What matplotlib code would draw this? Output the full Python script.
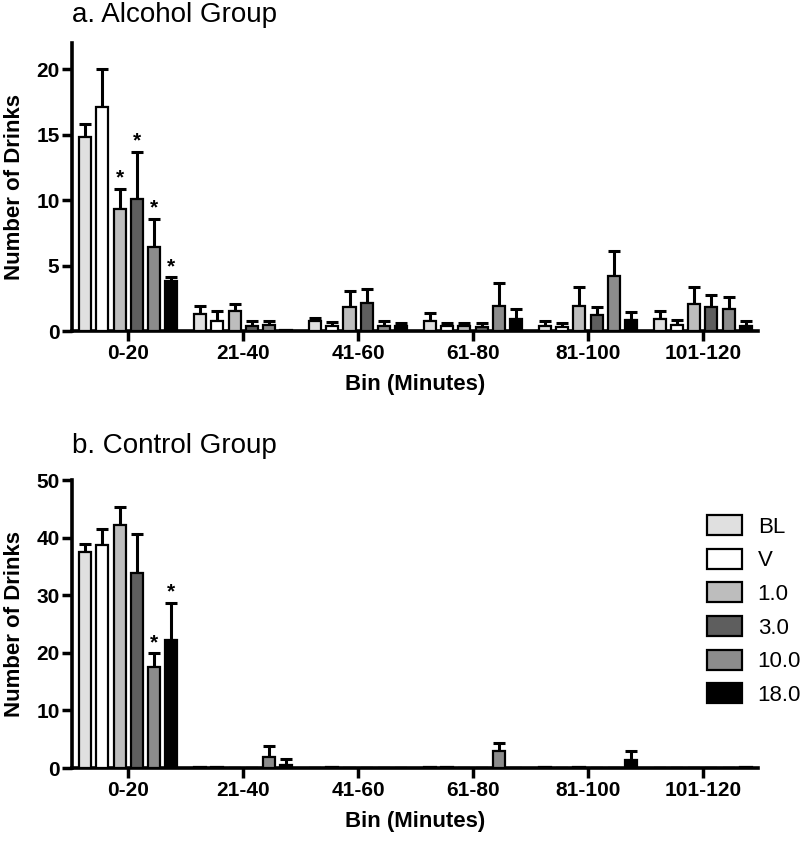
import matplotlib
matplotlib.use("Agg")
import matplotlib.pyplot as plt
import matplotlib.patches as mpatches
import numpy as np

plt.rcParams["font.family"] = ["Liberation Sans", "DejaVu Sans"]

BINS = ["0-20", "21-40", "41-60", "61-80", "81-100", "101-120"]
DOSES = ["BL", "V", "1.0", "3.0", "10.0", "18.0"]
COLORS = ["#e0e0e0", "#ffffff", "#bdbdbd", "#5e5e5e", "#8c8c8c", "#000000"]

# ── a. Alcohol group: mean per bin, one list per dose ───────────────────────
ALC_MEAN = {
    "BL":   [14.8, 1.3, 0.75, 0.75, 0.4, 0.9],
    "V":    [17.1, 0.8, 0.4, 0.35, 0.3, 0.45],
    "1.0":  [9.3, 1.5, 1.8, 0.35, 1.95, 2.1],
    "3.0":  [10.1, 0.4, 2.15, 0.3, 1.2, 1.85],
    "10.0": [6.45, 0.45, 0.4, 1.95, 4.2, 1.65],
    "18.0": [3.8, 0.05, 0.35, 0.95, 0.85, 0.4],
}
ALC_SEM = {
    "BL":   [1.0, 0.6, 0.25, 0.6, 0.4, 0.65],
    "V":    [2.9, 0.7, 0.3, 0.3, 0.3, 0.4],
    "1.0":  [1.55, 0.55, 1.25, 0.3, 1.45, 1.25],
    "3.0":  [3.6, 0.4, 1.05, 0.3, 0.6, 0.9],
    "10.0": [2.15, 0.35, 0.4, 1.7, 1.95, 0.95],
    "18.0": [0.3, 0.0, 0.3, 0.75, 0.6, 0.35],
}
ALC_SIG = {"1.0": [0], "3.0": [0], "10.0": [0], "18.0": [0]}

# ── b. Control group ────────────────────────────────────────────────────────
CTL_MEAN = {
    "BL":   [37.6, 0.1, 0.0, 0.15, 0.15, 0.0],
    "V":    [38.7, 0.15, 0.1, 0.1, 0.05, 0.0],
    "1.0":  [42.3, 0.0, 0.0, 0.0, 0.2, 0.0],
    "3.0":  [33.8, 0.0, 0.0, 0.0, 0.05, 0.0],
    "10.0": [17.6, 2.0, 0.0, 2.9, 0.0, 0.0],
    "18.0": [22.2, 0.6, 0.0, 0.0, 1.35, 0.15],
}
CTL_SEM = {
    "BL":   [1.4, 0.0, 0.0, 0.0, 0.0, 0.0],
    "V":    [2.9, 0.0, 0.0, 0.0, 0.0, 0.0],
    "1.0":  [3.0, 0.0, 0.0, 0.0, 0.0, 0.0],
    "3.0":  [6.9, 0.0, 0.0, 0.0, 0.0, 0.0],
    "10.0": [2.3, 1.9, 0.0, 1.45, 0.0, 0.0],
    "18.0": [6.5, 0.9, 0.0, 0.0, 1.55, 0.0],
}
CTL_SIG = {"10.0": [0], "18.0": [0]}

fig = plt.figure(figsize=(8, 8.44), dpi=100)
ax_a = fig.add_axes([0.09, 0.6078, 0.8575, 0.341])
ax_b = fig.add_axes([0.09, 0.09, 0.8575, 0.341])

bw = 0.105
step = 0.15
x = np.arange(len(BINS))
offsets = (np.arange(len(DOSES)) - 2.5) * step


def draw_panel(ax, means, sems, sig, ylim, yticks, star_pad):
    for i, dose in enumerate(DOSES):
        xs = x + offsets[i]
        ax.bar(xs, means[dose], width=bw, color=COLORS[i], edgecolor="black",
               linewidth=1.6, zorder=3)
        m = np.array(means[dose])
        e = np.array(sems[dose])
        has = e > 0
        ax.errorbar(xs[has], m[has], yerr=[np.zeros(has.sum()), e[has]],
                    fmt="none", ecolor="black", elinewidth=2.2, capsize=4,
                    capthick=2.2, zorder=2)
        for j in sig.get(dose, []):
            ax.text(xs[j], m[j] + e[j] + star_pad, "*", ha="center",
                    va="bottom", fontsize=15, fontweight="bold")
    ax.set_xlim(-0.49, 5.48)
    ax.set_ylim(*ylim)
    ax.set_yticks(yticks)
    ax.set_xticks(x)
    ax.set_xticklabels(BINS)
    for lbl in ax.get_xticklabels() + ax.get_yticklabels():
        lbl.set_fontweight("bold")
        lbl.set_fontsize(15)
    ax.tick_params(axis="both", direction="out", length=7, width=2.5, pad=2)
    for s in ["top", "right"]:
        ax.spines[s].set_visible(False)
    for s in ["left", "bottom"]:
        ax.spines[s].set_linewidth(2.6)
    ax.set_ylabel("Number of Drinks", fontsize=16, fontweight="bold", labelpad=8)
    ax.set_xlabel("Bin (Minutes)", fontsize=16, fontweight="bold", labelpad=8)


draw_panel(ax_a, ALC_MEAN, ALC_SEM, ALC_SIG, (0, 22), [0, 5, 10, 15, 20], 0.1)
draw_panel(ax_b, CTL_MEAN, CTL_SEM, CTL_SIG, (0, 50), [0, 10, 20, 30, 40, 50], 0.2)

fig.text(0.09, 0.974, "a. Alcohol Group", fontsize=20, va="baseline")
fig.text(0.09, 0.463, "b. Control Group", fontsize=20, va="baseline")

handles = [mpatches.Patch(facecolor=c, edgecolor="black", linewidth=1.6, label=d)
           for c, d in zip(COLORS, DOSES)]
ax_b.legend(handles=handles, loc="upper left", bbox_to_anchor=(0.912, 0.91),
            frameon=False, fontsize=16, handlelength=1.6, handleheight=1.0,
            labelspacing=0.5, handletextpad=0.7, borderaxespad=0)

fig.savefig("out.png", dpi=100)
